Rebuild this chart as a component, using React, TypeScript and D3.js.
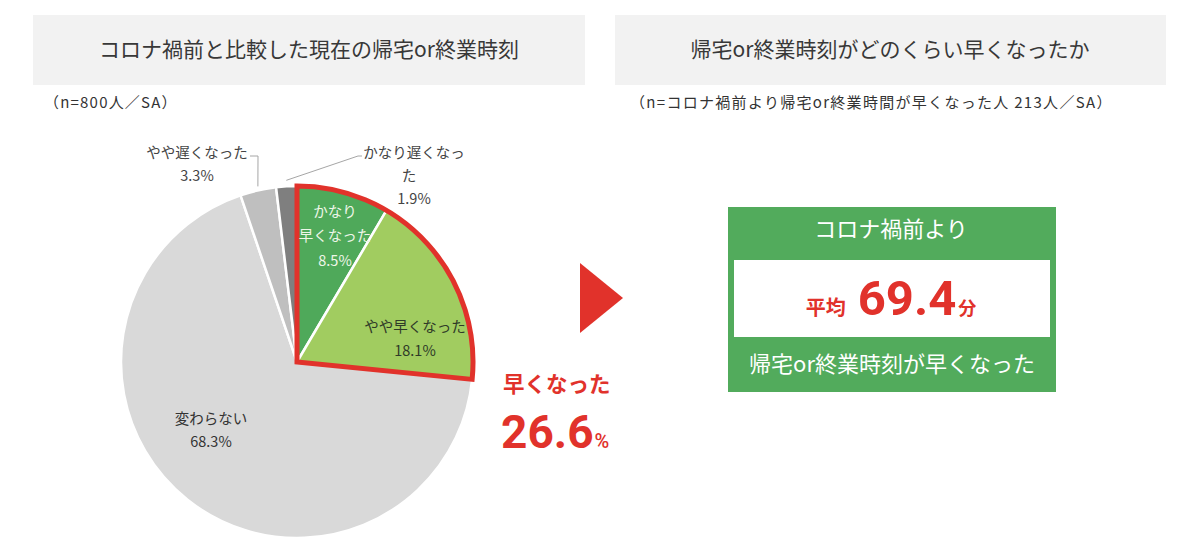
import React from "react";
import * as d3 from "d3";

const categories = ["かなり早くなった", "やや早くなった", "変わらない", "やや遅くなった", "かなり遅くなった"];
const values = [8.5, 18.1, 68.3, 3.3, 1.9];
const colors = ["#4FA95A", "#A1CC60", "#D9D9D9", "#BFBFBF", "#7F7F7F"];
const labelLines = [["かなり", "早くなった", "8.5%"], ["やや早くなった", "18.1%"], ["変わらない", "68.3%"], ["やや遅くなった", "3.3%"], ["かなり遅くなっ", "た", "1.9%"]];
const highlightTotal = "26.6";
const averageMinutes = "69.4";

const FONT = "'Noto Sans CJK JP', 'Noto Sans', sans-serif";
const NUMFONT = "Roboto, 'Liberation Sans', sans-serif";
const RED = "#E1322B";
const GREEN = "#52AB5C";

export default function App() {
  const W = 1200, H = 557;
  const cx = 297, cy = 362, R = 176;
  const pie = d3.pie<number>().sort(null).value((d) => d);
  const arcs = pie(values);
  const arc = d3.arc<d3.PieArcDatum<number>>().innerRadius(0).outerRadius(R);
  const hlArc = d3.arc()({ innerRadius: 0, outerRadius: R, startAngle: arcs[0].startAngle, endAngle: arcs[1].endAngle }) as string;

  const polar = (ang: number, r: number): [number, number] => [cx + r * Math.sin(ang), cy - r * Math.cos(ang)];
  const mid = (i: number) => (arcs[i].startAngle + arcs[i].endAngle) / 2;

  const LS = 14.5;
  const inner = [
    { i: 0, pos: [cx + 38, cy - 149], colr: "#EEF6E8", gap: 24.5 },
    { i: 1, pos: [cx + 118, cy - 34], colr: "#2F3A28", gap: 24 },
    { i: 2, pos: [cx - 86, cy + 58], colr: "#333", gap: 23.5 },
  ];

  const edge3 = polar(mid(3), R + 1);
  const edge4 = polar(mid(4), R + 3);

  return (
    <svg width={W} height={H} style={{ display: "block", position: "absolute", left: 0, top: 0, background: "#fff" }} fontFamily={FONT}>
      <rect x={0} y={0} width={W} height={H} fill="#fff" />
      {/* title boxes */}
      <rect x={33} y={15} width={552} height={70} fill="#F2F2F2" />
      <text x={309} y={51} textAnchor="middle" dominantBaseline="middle" fontSize={21} fill="#383838">コロナ禍前と比較した現在の帰宅or終業時刻</text>
      <text x={44} y={104} dominantBaseline="middle" fontSize={15} letterSpacing={1.2} fill="#333">（n=800人／SA）</text>

      <rect x={615} y={15} width={551} height={70} fill="#F2F2F2" />
      <text x={890} y={51} textAnchor="middle" dominantBaseline="middle" fontSize={21} fill="#383838">帰宅or終業時刻がどのくらい早くなったか</text>
      <text x={630} y={104} dominantBaseline="middle" fontSize={15} letterSpacing={1.3} fill="#333">（n=コロナ禍前より帰宅or終業時間が早くなった人 213人／SA）</text>

      {/* pie */}
      <g transform={`translate(${cx},${cy})`}>
        {arcs.map((a, i) => (
          <path key={i} d={arc(a) as string} fill={colors[i]} stroke="#fff" strokeWidth={2.5} strokeLinejoin="round" />
        ))}
        <path d={hlArc} fill="none" stroke={RED} strokeWidth={5} strokeLinejoin="miter" />
      </g>

      {inner.map(({ i, pos, colr, gap }) =>
        labelLines[i].map((t, k) => (
          <text key={`${i}-${k}`} x={pos[0]} y={pos[1] + k * gap} textAnchor="middle" dominantBaseline="middle" fontSize={LS} fill={colr}>{t}</text>
        ))
      )}

      {/* outside labels */}
      {labelLines[3].map((t, k) => (
        <text key={`o3-${k}`} x={197} y={154 + k * 23} textAnchor="middle" dominantBaseline="middle" fontSize={LS} fill="#444">{t}</text>
      ))}
      <polyline points={`250,156 258,156 ${edge3[0]},${edge3[1] - 3}`} fill="none" stroke="#A6A6A6" strokeWidth={1} />
      {labelLines[4].map((t, k) => (
        <text key={`o4-${k}`} x={k === 0 ? 414 : k === 1 ? 409 : 414} y={154 + k * 23} textAnchor="middle" dominantBaseline="middle" fontSize={LS} fill="#444">{t}</text>
      ))}
      <polyline points={`362,156 358,156 ${edge4[0]},${edge4[1] - 3}`} fill="none" stroke="#A6A6A6" strokeWidth={1} />

      {/* callout */}
      <text x={503} y={386} dominantBaseline="middle" fontSize={21.5} fontWeight={700} fill={RED}>早くなった</text>
      <text x={501} y={448} fontSize={46} fontWeight={700} fill={RED} fontFamily={NUMFONT}>
        {highlightTotal}
        <tspan fontSize={20} fontWeight={500} dx={1}>%</tspan>
      </text>

      {/* triangle */}
      <path d="M580,263 L580,333 L623,298 Z" fill={RED} />

      {/* green box */}
      <rect x={728} y={207} width={328} height={185} fill={GREEN} />
      <rect x={734} y={260} width={316} height={77} fill="#fff" />
      <text x={891} y={231} textAnchor="middle" dominantBaseline="middle" fontSize={22} fill="#fff">コロナ禍前より</text>
      <text x={891} y={315} textAnchor="middle" fill={RED} fontWeight={700}>
        <tspan fontSize={20}>平均</tspan>
        <tspan fontSize={49} dx={12} fontFamily={NUMFONT}>{averageMinutes}</tspan>
        <tspan fontSize={18} dx={2}>分</tspan>
      </text>
      <text x={892} y={366} textAnchor="middle" dominantBaseline="middle" fontSize={22} fill="#fff">帰宅or終業時刻が早くなった</text>
    </svg>
  );
}
